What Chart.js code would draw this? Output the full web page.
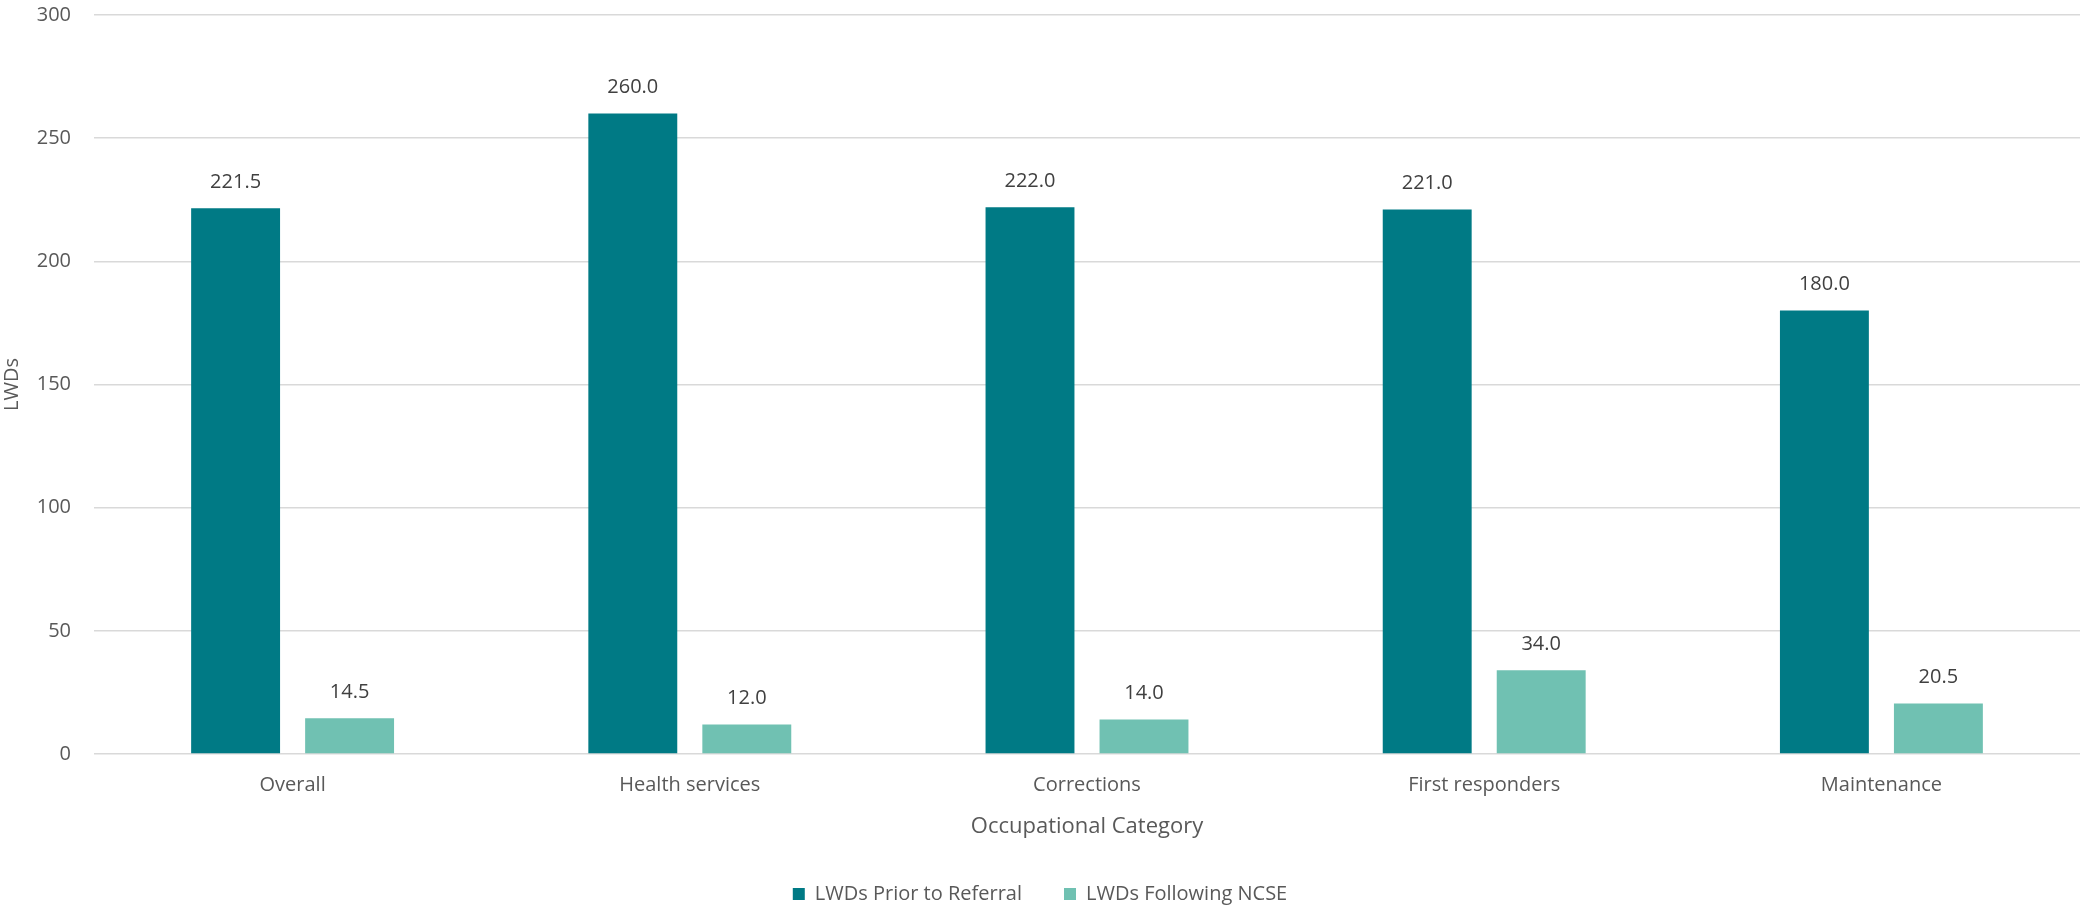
<!DOCTYPE html>
<html>
<head>
<meta charset="utf-8">
<title>LWDs by Occupational Category</title>
<script src="https://cdn.jsdelivr.net/npm/chart.js@4.4.1/dist/chart.umd.min.js"></script>
<style>
  html, body { margin: 0; padding: 0; background: #ffffff; }
  #wrap { width: 2081px; height: 908px; position: relative; }
</style>
</head>
<body>
<div id="wrap"><canvas id="lwdChart"></canvas></div>
<script>
// data
const categories = ['Overall', 'Health services', 'Corrections', 'First responders', 'Maintenance'];
const priorToReferral = [221.5, 260.0, 222.0, 221.0, 180.0];
const followingNcse = [14.5, 12.0, 14.0, 34.0, 20.5];
const seriesNames = ['LWDs Prior to Referral', 'LWDs Following NCSE'];
const yTicks = [0, 50, 100, 150, 200, 250, 300];

const FONT = "'Open Sans', 'Noto Sans', sans-serif";
const TEXT_GREY = '#595959';

// value labels above each bar
const barValueLabels = {
  id: 'barValueLabels',
  afterDatasetsDraw(chart) {
    const ctx = chart.ctx;
    ctx.save();
    ctx.font = '20px ' + FONT;
    ctx.fillStyle = '#404040';
    ctx.textAlign = 'center';
    ctx.textBaseline = 'middle';
    chart.data.datasets.forEach(function (ds, i) {
      chart.getDatasetMeta(i).data.forEach(function (bar, j) {
        ctx.fillText(ds.data[j].toFixed(1), bar.x, bar.y - 26);
      });
    });
    ctx.restore();
  }
};

// push the legend row a little lower
const legendOffset = {
  id: 'legendOffset',
  beforeDraw(chart) {
    if (chart.legend) {
      chart.legend.top += 2;
      chart.legend.bottom += 2;
    }
  }
};

const ctx = document.getElementById('lwdChart');

new Chart(ctx, {
  type: 'bar',
  data: {
    labels: categories,
    datasets: [
      {
        label: seriesNames[0],
        data: priorToReferral,
        backgroundColor: '#007A85',
        borderWidth: 0
      },
      {
        label: seriesNames[1],
        data: followingNcse,
        backgroundColor: '#70C1B2',
        borderWidth: 0
      }
    ]
  },
  plugins: [barValueLabels, legendOffset],
  options: {
    responsive: true,
    maintainAspectRatio: false,
    animation: false,
    categoryPercentage: 0.574,
    barPercentage: 0.78,
    layout: {
      padding: { top: 15, right: 1, left: 0, bottom: -4 }
    },
    plugins: {
      legend: {
        position: 'bottom',
        labels: {
          boxWidth: 12,
          boxHeight: 12,
          padding: 42,
          color: TEXT_GREY,
          font: { family: FONT, size: 20 }
        }
      },
      tooltip: { enabled: false }
    },
    scales: {
      x: {
        grid: { display: false, drawTicks: false },
        border: { display: false },
        ticks: {
          color: TEXT_GREY,
          padding: 19,
          font: { family: FONT, size: 20 }
        },
        title: {
          display: true,
          text: 'Occupational Category',
          color: TEXT_GREY,
          padding: 0,
          font: { family: FONT, size: 22 }
        },
        afterFit: function (scale) {
          scale.height = 86;
        }
      },
      y: {
        min: 0,
        max: 300,
        afterBuildTicks: function (scale) {
          scale.ticks = yTicks.map(function (v) { return { value: v }; });
        },
        grid: {
          color: '#d9d9d9',
          lineWidth: 1.5,
          drawTicks: true,
          tickLength: 23,
          tickColor: 'rgba(0,0,0,0)'
        },
        border: { display: false },
        ticks: {
          color: TEXT_GREY,
          padding: 0,
          font: { family: FONT, size: 20 }
        },
        title: {
          display: true,
          text: 'LWDs',
          color: TEXT_GREY,
          padding: 0,
          font: { family: FONT, size: 20 }
        },
        afterFit: function (scale) {
          scale.width = 94;
        }
      }
    }
  }
});
</script>
</body>
</html>
